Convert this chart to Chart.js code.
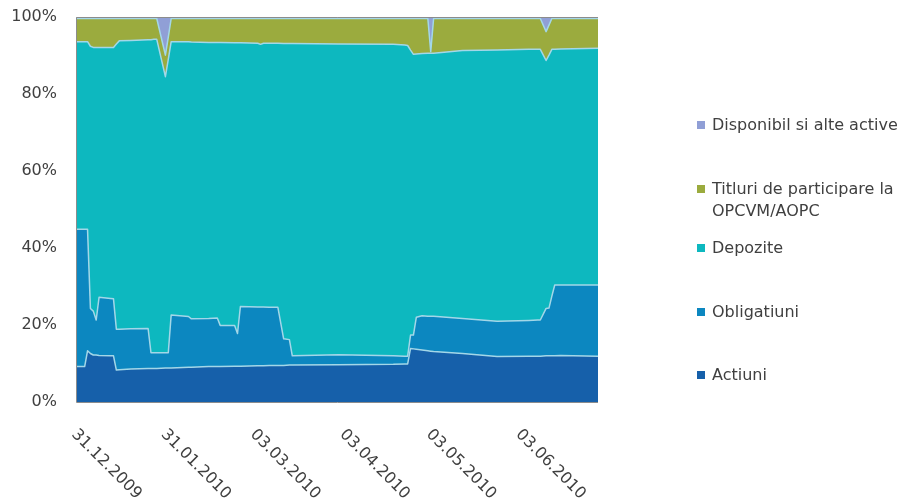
<!DOCTYPE html>
<html><head><meta charset="utf-8">
<script src="https://cdn.jsdelivr.net/npm/chart.js@4.4.1/dist/chart.umd.min.js"></script>
<style>
html,body{margin:0;padding:0;background:#fff;}
#wrap{position:relative;width:905px;height:502px;}
#legend{position:absolute;left:0;top:0;width:905px;height:502px;pointer-events:none;font-family:'DejaVu Sans';font-size:16px;color:#404040;}
.li{position:absolute;left:697px;white-space:nowrap;}
.box{position:absolute;left:0;width:8px;height:8px;}
.txt{position:absolute;left:15px;line-height:22px;}
</style></head><body>
<div id="wrap"><canvas id="c"></canvas><div id="legend"></div></div>
<script>
// day offsets from 31.12.2009
const days        = [0,3,4,5,6,7,8,12,13,14,15,19,25,26,27,28,31,32,33,39,40,46,49,50,55,56,57,63,64,65,67,70,72,74,75,91,110,114,115,116,117,118,120,122,123,124,134,146,157,160,161,163,164,165,166,168,181];
const actiuni     = [9.2,9.2,13.3,12.6,12.2,12.2,12.1,12.0,12.0,8.3,8.4,8.6,8.7,8.7,8.7,8.7,8.8,8.8,8.8,9.0,9.0,9.2,9.2,9.2,9.3,9.3,9.3,9.4,9.4,9.4,9.5,9.5,9.5,9.6,9.6,9.7,9.8,9.9,9.9,13.9,13.8,13.7,13.5,13.3,13.2,13.1,12.6,11.8,11.9,11.9,11.9,12.0,12.0,12.0,12.0,12.1,11.9];
const obligatiuni = [35.7,35.7,31.6,11.7,11.4,9.1,15.1,14.9,14.8,10.6,10.5,10.4,10.4,4.1,4.1,4.1,4.0,4.0,13.8,13.2,12.6,12.5,12.6,10.7,10.6,8.5,15.5,15.3,15.3,15.3,15.1,15.1,6.9,6.6,2.4,2.6,2.2,2.0,2.0,3.5,3.6,8.3,8.9,9.0,9.1,9.2,9.1,9.2,9.3,9.4,9.4,12.3,12.4,15.5,18.4,18.3,18.5];
const depozite    = [48.7,48.7,48.7,68.1,68.5,70.8,64.9,65.2,65.3,74.1,74.9,74.9,75.0,81.3,81.4,81.4,71.7,76.2,71.0,71.4,71.9,71.7,71.6,73.5,73.4,75.5,68.5,68.5,68.2,68.5,68.6,68.6,76.7,76.9,81.1,80.7,80.9,80.8,80.7,74.0,72.9,68.4,68.1,68.3,68.3,68.3,69.6,70.4,70.4,70.3,70.3,64.4,65.7,64.1,61.2,61.3,61.5];
const titluri     = [6.0,6.0,6.0,7.2,7.5,7.5,7.5,7.5,7.5,6.6,5.8,5.7,5.5,5.5,5.4,5.4,5.6,5.8,6.0,6.0,6.1,6.2,6.2,6.2,6.3,6.3,6.3,6.4,6.7,6.4,6.4,6.4,6.5,6.5,6.5,6.6,6.7,6.9,7.0,8.2,9.3,9.2,9.1,9.0,0.4,9.0,8.3,8.2,8.0,8.0,8.0,7.5,7.8,8.0,8.0,7.9,7.7];
const disponibil  = [0.4,0.4,0.4,0.4,0.4,0.4,0.4,0.4,0.4,0.4,0.4,0.4,0.4,0.4,0.4,0.4,9.9,5.2,0.4,0.4,0.4,0.4,0.4,0.4,0.4,0.4,0.4,0.4,0.4,0.4,0.4,0.4,0.4,0.4,0.4,0.4,0.4,0.4,0.4,0.4,0.4,0.4,0.4,0.4,9.0,0.4,0.4,0.4,0.4,0.4,0.4,3.8,2.1,0.4,0.4,0.4,0.4];

const tickDays   = [0,31,62,93,123,154];
const tickLabels = ['31.12.2009','31.01.2010','03.03.2010','03.04.2010','03.05.2010','03.06.2010'];
const yTicks     = [0,20,40,60,80,100];

const seriesNames = ['Actiuni','Obligatiuni','Depozite',['Titluri de participare la','OPCVM/AOPC'],'Disponibil si alte active'];
const seriesColors = ['#1660aa','#0c87c0','#0db8bf','#9bab3e','#909fd6'];
const seriesValues = [actiuni, obligatiuni, depozite, titluri, disponibil];

const FONT = '"DejaVu Sans"';
const TEXT = '#404040';
const FRAME = '#8c8c8c';

const datasets = seriesValues.map((vals, k) => ({
  label: Array.isArray(seriesNames[k]) ? seriesNames[k].join(' ') : seriesNames[k],
  data: days.map((d, i) => ({x: d, y: vals[i]})),
  backgroundColor: seriesColors[k],
  borderColor: k === 4 ? '#b4bde2' : '#a3d7e8',
  borderWidth: k === 4 ? 1 : 1.5,
  pointRadius: 0,
  tension: 0,
  fill: k === 0 ? 'origin' : '-1'
}));

const framePlugin = {
  id: 'frame',
  afterDraw(chart) {
    const {ctx, chartArea: a, scales: {x}} = chart;
    ctx.save();
    ctx.strokeStyle = FRAME; ctx.lineWidth = 1;
    ctx.beginPath();
    ctx.moveTo(a.right, a.top + 0.5); ctx.lineTo(a.left + 0.5, a.top + 0.5);
    ctx.lineTo(a.left + 0.5, a.bottom + 0.5); ctx.lineTo(a.right, a.bottom + 0.5);
    ctx.stroke();
    ctx.font = '16px ' + FONT;
    ctx.fillStyle = TEXT;
    ctx.textAlign = 'left'; ctx.textBaseline = 'middle';
    x.ticks.forEach((t, i) => {
      const px = x.getPixelForTick(i);
      ctx.save();
      ctx.translate(px - 2, a.bottom + 30);
      ctx.rotate(Math.PI / 4);
      ctx.fillText(tickLabels[i], 0, 0);
      ctx.restore();
    });
    ctx.restore();
  }
};

new Chart(document.getElementById('c'), {
  type: 'line',
  data: { datasets },
  options: {
    responsive: true, maintainAspectRatio: false, animation: false,
    layout: { padding: { left: 0, right: 307, top: 17, bottom: 0 } },
    plugins: { legend: { display: false }, tooltip: { enabled: false } },
    elements: { line: { borderJoinStyle: 'round' } },
    scales: {
      x: {
        type: 'linear', min: 0, max: 181,
        grid: { display: false, drawTicks: false }, border: { display: false },
        afterBuildTicks(s) { s.ticks = tickDays.map(v => ({value: v})); },
        afterFit(s) { s.height = 100; s.paddingLeft = 0; s.paddingRight = 0; },
        ticks: { display: false }
      },
      y: {
        stacked: true, min: 0, max: 100,
        grid: { display: false, drawTicks: false }, border: { display: false },
        afterBuildTicks(s) { s.ticks = yTicks.map(v => ({value: v})); },
        afterFit(s) { s.width = 76; s.paddingTop = 0; s.paddingBottom = 0; },
        ticks: { padding: 19, color: TEXT, font: { family: FONT, size: 16 }, callback: v => v + '%' }
      }
    }
  },
  plugins: [framePlugin]
});

// HTML legend (top to bottom, reversed stack order)
const legendTops = [375, 312, 248, 189, 125];
const leg = document.getElementById('legend');
for (let k = 4; k >= 0; k--) {
  const item = document.createElement('div');
  item.className = 'li';
  item.style.top = (legendTops[k] - 11) + 'px';
  const box = document.createElement('div');
  box.className = 'box';
  box.style.top = '7px';
  box.style.background = seriesColors[k];
  const txt = document.createElement('div');
  txt.className = 'txt';
  const lines = Array.isArray(seriesNames[k]) ? seriesNames[k] : [seriesNames[k]];
  lines.forEach((ln, j) => { if (j) txt.appendChild(document.createElement('br')); txt.appendChild(document.createTextNode(ln)); });
  item.appendChild(box); item.appendChild(txt);
  leg.appendChild(item);
}
</script>
</body></html>
